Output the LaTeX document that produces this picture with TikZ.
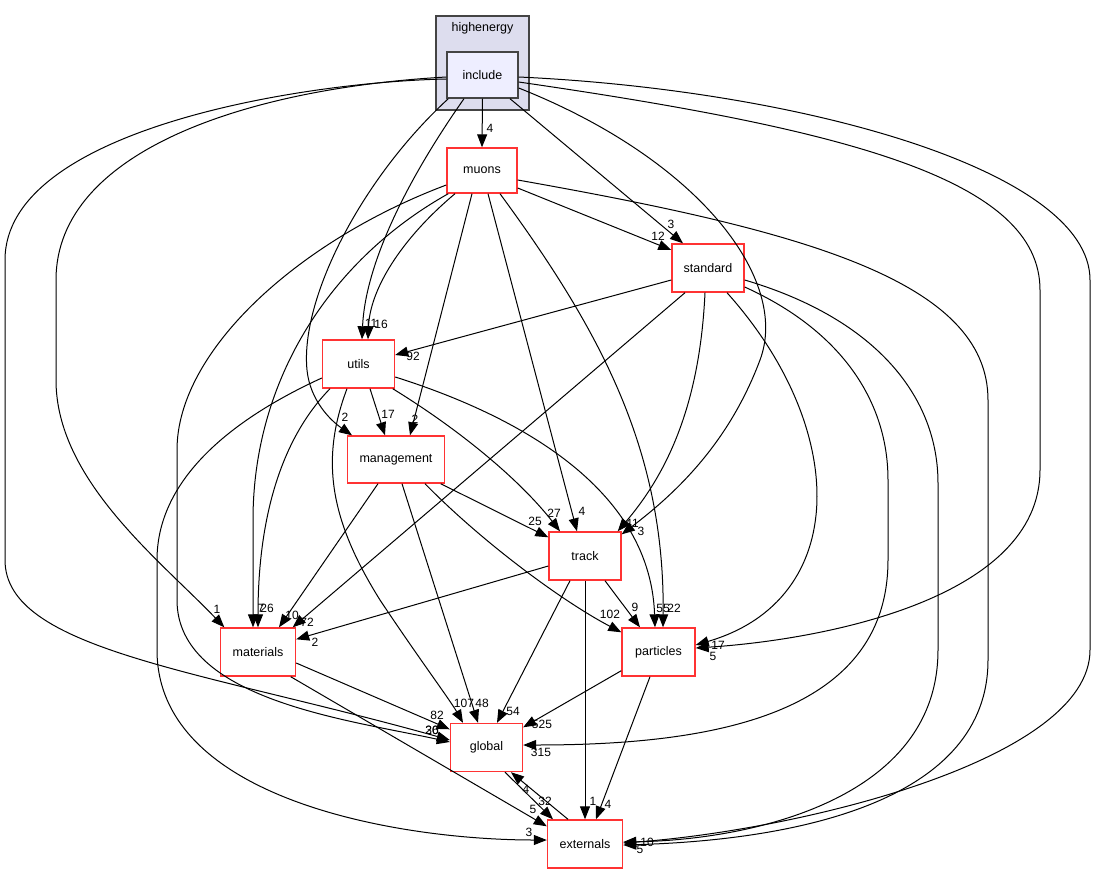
\documentclass[tikz,border=0pt]{standalone}
\usepackage{fontspec}
\setmainfont{Liberation Sans}
\usetikzlibrary{arrows.meta}
\definecolor{clfill}{HTML}{DDDDEE}
\definecolor{incfill}{HTML}{EEEEFF}
\definecolor{clborder}{HTML}{444444}
\definecolor{dirred}{HTML}{FF3333}
\tikzset{
  dirbox/.style={draw=dirred, line width=1.4pt, fill=white, minimum width=72pt,
    minimum height=48pt, inner sep=0pt, font=\fontsize{12.5}{14}\selectfont},
  dep/.style={->, line width=1pt},
  lbl/.style={inner sep=0pt, font=\fontsize{12}{14}\selectfont}
}
\begin{document}
\begin{tikzpicture}[x=1pt, y=-1pt, >={Triangle[length=13pt,width=10pt]}]
    \useasboundingbox (0,0) rectangle (1096,873);

    % Cluster highenergy
    \node[draw=clborder, line width=1.4pt, fill=clfill, minimum width=93pt, minimum height=94pt] (hecl) at (482.5,63) {};
    \node[lbl, font=\fontsize{12.5}{14}\selectfont] (hetitle) at (482.5,28) {highenergy};
    \node[dirbox, draw=clborder, fill=incfill, minimum width=71pt, minimum height=46pt] (inc) at (482.5,75) {include};

    % Directories
    \node[dirbox, minimum width=70pt, minimum height=45pt] (muons) at (482,170.5) {muons};
    \node[dirbox] (std) at (708,268) {standard};
    \node[dirbox] (utils) at (358.5,364) {utils};
    \node[dirbox, minimum width=97pt, minimum height=47pt] (mgmt) at (396,459.5) {management};
    \node[dirbox] (track) at (585,556) {track};
    \node[dirbox, minimum width=75pt] (mat) at (258,652) {materials};
    \node[dirbox, minimum width=73pt] (part) at (658.5,652) {particles};
    \node[dirbox] (glob) at (486.5,747.5) {global};
    \node[dirbox, minimum width=75pt] (ext) at (585,844) {externals};

    % include
    \draw[dep] (inc.south) -- (muons.north);
    \draw[dep] ([xshift=27.5pt]inc.south) -- ([xshift=-25pt]std.north);
    \draw[dep] ([xshift=-18.5pt]inc.south) .. controls (400,190) and (365,270) .. ([xshift=3.5pt]utils.north);
    \draw[dep] ([xshift=2pt]inc.south west) .. controls (360,180) and (300,300) .. (307,370) .. controls (310,400) and (330,420) .. ([xshift=-44pt]mgmt.north);
    \draw[dep] ([yshift=-13pt]inc.east) .. controls (700,160) and (790,280) .. (760,360) .. controls (730,440) and (680,490) .. ([yshift=-3pt]track.north east);
    \draw[dep] ([yshift=-2pt]inc.west) .. controls (250,88) and (56,150) .. (56,280) -- (56,380) .. controls (56,480) and (160,560) .. ([xshift=4.5pt]mat.north west);
    \draw[dep] ([yshift=-4pt]inc.west) .. controls (300,82) and (5,130) .. (5,260) -- (5,560) .. controls (5,650) and (200,670) .. ([yshift=7.5pt]glob.west);
    \draw[dep] ([yshift=-7pt]inc.east) .. controls (850,130) and (1040,180) .. (1040,290) -- (1040,470) .. controls (1040,600) and (820,640) .. ([yshift=4pt]part.east);
    \draw[dep] ([yshift=-2pt]inc.east) .. controls (800,90) and (1090,170) .. (1090,280) -- (1090,650) .. controls (1090,760) and (800,830) .. ([yshift=1pt]ext.east);

    % muons
    \draw[dep] ([yshift=-17.5pt]muons.east) -- ([yshift=18pt]std.west);
    \draw[dep] ([xshift=-27pt]muons.south) .. controls (400,240) and (370,290) .. ([xshift=9.5pt]utils.north);
    \draw[dep] ([xshift=2pt]muons.south west) .. controls (330,260) and (253,380) .. (253,520) -- ([xshift=-5pt]mat.north);
    \draw[dep] ([yshift=-14.5pt]muons.west) .. controls (300,240) and (177,350) .. (177,450) -- (177,600) .. controls (177,700) and (350,720) .. ([yshift=5.5pt]glob.west);
    \draw[dep] ([xshift=-10pt]muons.south) -- ([xshift=14pt]mgmt.north);
    \draw[dep] ([xshift=6pt]muons.south) -- ([xshift=-8pt]track.north);
    \draw[dep] ([xshift=18pt]muons.south) .. controls (600,330) and (665,450) .. ([xshift=4.5pt]part.north);
    \draw[dep] ([yshift=-9.5pt]muons.east) .. controls (800,230) and (988,280) .. (988,400) -- (988,660) .. controls (988,800) and (800,840) .. ([yshift=-1pt]ext.east);

    % standard
    \draw[dep] ([yshift=-12pt]std.west) -- ([yshift=9pt]utils.east);
    \draw[dep] ([xshift=-23pt]std.south) -- ([xshift=-3.5pt]mat.north east);
    \draw[dep] ([xshift=-3pt]std.south) .. controls (700,400) and (670,470) .. ([xshift=-4pt]track.north east);
    \draw[dep] ([xshift=19pt]std.south) .. controls (850,430) and (850,600) .. ([yshift=7pt]part.east);
    \draw[dep] ([yshift=-19pt]std.east) .. controls (840,330) and (888,400) .. (888,480) -- (888,560) .. controls (888,720) and (700,745) .. ([yshift=2.5pt]glob.east);
    \draw[dep] ([yshift=-12pt]std.east) .. controls (880,320) and (938,400) .. (938,483) -- (938,650) .. controls (938,800) and (750,840) .. ([yshift=2pt]ext.east);

    % utils
    \draw[dep] ([xshift=11.5pt]utils.south) -- ([xshift=-11pt]mgmt.north);
    \draw[dep] ([xshift=-28.5pt]utils.south) .. controls (280,440) and (258,520) .. (mat.north);
    \draw[dep] ([xshift=-2.5pt]utils.south east) .. controls (460,430) and (520,480) .. ([xshift=-25pt]track.north);
    \draw[dep] ([yshift=-13pt]utils.east) .. controls (500,410) and (650,480) .. ([xshift=-3.5pt]part.north);
    \draw[dep] ([xshift=-11.5pt]utils.south) .. controls (320,460) and (330,520) .. (380,600) .. controls (420,660) and (450,700) .. ([xshift=-23.5pt]glob.north);
    \draw[dep] ([yshift=-14pt]utils.west) .. controls (230,420) and (157,480) .. (157,560) -- (157,650) .. controls (157,800) and (400,840) .. ([yshift=4pt]ext.west);

    % management
    \draw[dep] ([xshift=-18pt]mgmt.south) -- ([xshift=21pt]mat.north);
    \draw[dep] ([xshift=-4.5pt]mgmt.south east) -- ([yshift=-6pt]track.north west);
    \draw[dep] ([xshift=29pt]mgmt.south) .. controls (480,540) and (560,600) .. ([yshift=-5pt]part.north west);
    \draw[dep] ([xshift=6pt]mgmt.south) -- ([xshift=-8.5pt]glob.north);

    % track
    \draw[dep] ([yshift=-10pt]track.west) -- ([yshift=-12pt]mat.north east);
    \draw[dep] ([xshift=20pt]track.south) -- ([xshift=-18.5pt]part.north);
    \draw[dep] ([xshift=-15pt]track.south) -- ([xshift=10.5pt]glob.north);
    \draw[dep] (track.south) -- (ext.north);

    % materials, particles
    \draw[dep] ([yshift=-11pt]mat.east) -- ([yshift=-6.5pt]glob.north west);
    \draw[dep] ([xshift=-5.5pt]mat.south east) -- ([yshift=-7pt]ext.north west);
    \draw[dep] ([yshift=6pt]part.south west) -- ([yshift=-4.5pt]glob.north east);
    \draw[dep] ([xshift=-8.5pt]part.south) -- ([xshift=11pt]ext.north);

    % global <-> externals
    \draw[dep] ([xshift=18.5pt]glob.south) -- ([xshift=-32pt]ext.north);
    \draw[dep] ([xshift=-17pt]ext.north) -- ([xshift=24.5pt]glob.south);

    % Labels
    \node[lbl] (lIncMu) at (490,128) {4};
    \node[lbl] (lIncStd) at (671,224) {3};
    \node[lbl] (lMuStd) at (658,236) {12};
    \node[lbl] (lIncUt) at (371,323) {11};
    \node[lbl] (lMuUt) at (381,324) {16};
    \node[lbl] (lStdUt) at (413,356) {92};
    \node[lbl] (lIncMg) at (345,417) {2};
    \node[lbl] (lUtMg) at (388,414) {17};
    \node[lbl] (lMuMg) at (415,419) {2};
    \node[lbl] (lMgTr) at (535,521) {25};
    \node[lbl] (lUtTr) at (554,513) {27};
    \node[lbl] (lMuTr) at (582,511) {4};
    \node[lbl] (lStdTr) at (632,523) {41};
    \node[lbl] (lIncTr) at (641,531) {3};
    \node[lbl] (lMgPa) at (610,614) {102};
    \node[lbl] (lTrPa) at (635,607) {9};
    \node[lbl] (lUtPa) at (663,608) {55};
    \node[lbl] (lMuPa) at (674,608) {22};
    \node[lbl] (lStdPa) at (718,645) {17};
    \node[lbl] (lIncPa) at (713,656) {5};
    \node[lbl] (lIncMa) at (217,609) {1};
    \node[lbl] (lUtMa) at (261,608) {7};
    \node[lbl] (lMuMa) at (267,608) {26};
    \node[lbl] (lMgMa) at (292,615) {10};
    \node[lbl] (lStdMa) at (307,622) {72};
    \node[lbl] (lTrMa) at (315,642) {2};
    \node[lbl] (lMaGl) at (437,715) {82};
    \node[lbl] (lIncGl) at (432,730) {20};
    \node[lbl] (lMuGl) at (432,730) {36};
    \node[lbl] (lUtGl) at (464,703) {107};
    \node[lbl] (lMgGl) at (482,703) {48};
    \node[lbl] (lTrGl) at (513,711) {54};
    \node[lbl] (lPaGl) at (542,724) {525};
    \node[lbl] (lStdGl) at (541,752) {315};
    \node[lbl] (lGlEx) at (526,789) {4};
    \node[lbl] (lExGl) at (545,801) {32};
    \node[lbl] (lMaEx) at (533,809) {5};
    \node[lbl] (lUtEx) at (529,832) {3};
    \node[lbl] (lTrEx) at (593,801) {1};
    \node[lbl] (lPaEx) at (608,804) {4};
    \node[lbl] (lIncEx) at (640,849) {5};
    \node[lbl] (lMuEx) at (647,842) {10};
\end{tikzpicture}
\end{document}
